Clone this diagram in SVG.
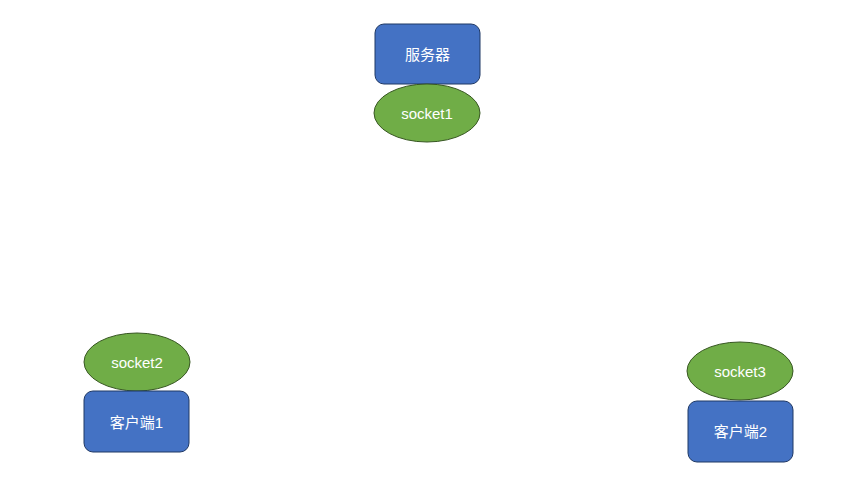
<svg xmlns="http://www.w3.org/2000/svg" width="853" height="480" viewBox="0 0 853 480">
<style>
.box{fill:#4472C4;stroke:#1F3864;stroke-width:1}
.sock{fill:#70AD47;stroke:#385723;stroke-width:1}
text{fill:#ffffff;font-family:"Liberation Sans","Noto Sans CJK SC",sans-serif;font-size:15px;text-anchor:middle;dominant-baseline:central}
</style>
<rect width="853" height="480" fill="#ffffff"/>
<g id="server">
<rect class="box" x="375" y="24" width="105" height="60" rx="9"/>
<text x="427.5" y="54">服务器</text>
</g>
<g id="socket1">
<ellipse class="sock" cx="427" cy="113" rx="53" ry="29"/>
<text x="427" y="113">socket1</text>
</g>
<g id="socket2">
<ellipse class="sock" cx="137" cy="362" rx="53" ry="29"/>
<text x="137" y="362">socket2</text>
</g>
<g id="client1">
<rect class="box" x="84" y="391" width="105" height="61" rx="9"/>
<text x="136.5" y="422">客户端1</text>
</g>
<g id="socket3">
<ellipse class="sock" cx="740" cy="371" rx="53" ry="29"/>
<text x="740" y="371">socket3</text>
</g>
<g id="client2">
<rect class="box" x="688" y="401" width="105" height="61" rx="9"/>
<text x="740.5" y="431">客户端2</text>
</g>
<g id="connectors"></g>
</svg>
